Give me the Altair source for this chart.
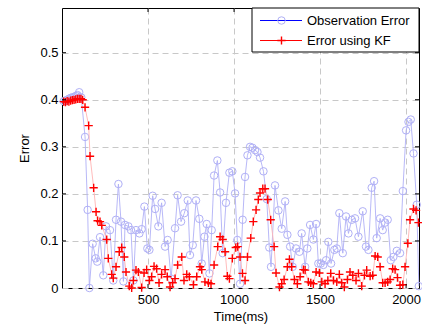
import altair as alt
import pandas as pd

series_names = ["Observation Error", "Error using KF"]

obs_t = [10, 20, 30, 40, 50, 60, 70, 80, 90, 100, 112, 134, 149, 159, 178, 196, 205, 221, 240, 256,
         279, 298, 314, 328, 343, 357, 366, 386, 401, 415, 430, 450, 463, 479, 496, 508, 527, 541, 560, 579,
         599, 614, 634, 657, 672, 692, 711, 731, 744, 760, 779, 798, 812, 828, 841, 857, 870, 884, 903, 919,
         934, 953, 973, 990, 1006, 1019, 1035, 1050, 1064, 1078, 1093, 1107, 1122, 1136, 1151, 1171, 1190, 1205, 1215, 1238,
         1258, 1277, 1297, 1310, 1326, 1341, 1360, 1380, 1393, 1413, 1426, 1442, 1461, 1477, 1490, 1504, 1519, 1535, 1548, 1564,
         1583, 1597, 1612, 1632, 1651, 1665, 1684, 1703, 1723, 1748, 1767, 1781, 1800, 1814, 1829, 1849, 1864, 1878, 1893, 1911,
         1926, 1946, 1965, 1981, 2000, 2014, 2027, 2043, 2062, 2074]
obs_e = [0.397, 0.398, 0.400, 0.402, 0.404, 0.405, 0.406, 0.408, 0.410, 0.416, 0.405, 0.321, 0.166, 0.000, 0.094, 0.063, 0.056, 0.108, 0.027, 0.131,
         0.123, 0.016, 0.145, 0.221, 0.141, 0.014, 0.134, 0.131, 0.123, 0.016, 0.123, 0.116, 0.125, 0.173, 0.084, 0.081, 0.196, 0.168, 0.131, 0.181,
         0.088, 0.102, 0.020, 0.127, 0.197, 0.141, 0.159, 0.186, 0.070, 0.091, 0.186, 0.147, 0.052, 0.109, 0.136, 0.031, 0.123, 0.239, 0.271, 0.203,
         0.074, 0.181, 0.245, 0.248, 0.201, 0.102, 0.009, 0.145, 0.236, 0.282, 0.300, 0.298, 0.293, 0.289, 0.277, 0.248, 0.189, 0.086, 0.045, 0.218,
         0.165, 0.126, 0.184, 0.113, 0.088, 0.045, 0.084, 0.077, 0.116, 0.045, 0.084, 0.134, 0.103, 0.136, 0.052, 0.052, 0.049, 0.059, 0.098, 0.052,
         0.081, 0.084, 0.159, 0.074, 0.152, 0.116, 0.145, 0.148, 0.109, 0.163, 0.088, 0.081, 0.213, 0.227, 0.106, 0.148, 0.123, 0.139, 0.145, 0.059,
         0.066, 0.079, 0.074, 0.206, 0.335, 0.353, 0.358, 0.286, 0.177, 0.004]

kf_t = [10, 20, 30, 40, 50, 60, 70, 80, 90, 100, 110, 120, 134, 155, 163, 184, 198, 207, 221, 231,
        260, 269, 289, 298, 314, 333, 347, 362, 372, 391, 405, 415, 430, 444, 463, 477, 492, 508, 521, 535,
        550, 564, 579, 599, 612, 628, 643, 657, 672, 696, 709, 725, 740, 764, 783, 802, 812, 831, 851, 866,
        884, 905, 919, 934, 948, 961, 973, 990, 1010, 1021, 1035, 1049, 1064, 1078, 1097, 1112, 1128, 1141, 1151, 1167,
        1180, 1196, 1213, 1233, 1244, 1264, 1277, 1291, 1310, 1322, 1335, 1351, 1368, 1384, 1403, 1413, 1432, 1446, 1461, 1477,
        1496, 1510, 1529, 1545, 1562, 1578, 1597, 1612, 1626, 1641, 1659, 1674, 1690, 1709, 1723, 1742, 1758, 1771, 1791, 1806,
        1820, 1835, 1849, 1864, 1878, 1893, 1907, 1922, 1936, 1950, 1965, 1981, 1994, 2010, 2023, 2043, 2058, 2072]
kf_e = [0.396, 0.395, 0.397, 0.396, 0.398, 0.399, 0.400, 0.401, 0.402, 0.402, 0.402, 0.400, 0.384, 0.345, 0.280, 0.213, 0.162, 0.143, 0.141, 0.133,
        0.103, 0.063, 0.029, 0.021, 0.045, 0.077, 0.086, 0.066, 0.034, 0.004, 0.000, 0.016, 0.038, 0.034, 0.001, 0.032, 0.039, 0.016, 0.024, 0.046,
        0.041, 0.011, 0.029, 0.039, 0.024, 0.002, 0.011, 0.020, 0.049, 0.066, 0.016, 0.029, 0.024, 0.007, 0.024, 0.045, 0.039, 0.013, 0.011, 0.009,
        0.049, 0.088, 0.109, 0.103, 0.077, 0.025, 0.020, 0.063, 0.086, 0.088, 0.066, 0.031, 0.016, 0.066, 0.106, 0.141, 0.166, 0.188, 0.202, 0.211,
        0.211, 0.188, 0.145, 0.088, 0.032, 0.002, 0.009, 0.018, 0.045, 0.061, 0.045, 0.018, 0.009, 0.024, 0.039, 0.038, 0.013, 0.011, 0.009, 0.034,
        0.032, 0.013, 0.009, 0.016, 0.031, 0.016, 0.013, 0.029, 0.011, 0.002, 0.018, 0.034, 0.027, 0.016, 0.031, 0.004, 0.027, 0.038, 0.025, 0.027,
        0.068, 0.066, 0.045, 0.011, 0.011, 0.013, 0.018, 0.041, 0.039, 0.022, 0.006, 0.007, 0.045, 0.095, 0.145, 0.168, 0.165, 0.139]

x_ticks = [500, 1000, 1500, 2000]
y_ticks = [0, 0.1, 0.2, 0.3, 0.4, 0.5]

FONT = "Liberation Sans"
W, H = 357, 280
PLUS = "M-1,0L1,0M0,-1L0,1"
OBS_LIGHT = "#b0b0f6"
KF_LIGHT = "#ffb4b4"
CIRC_SIZE = 56
PLUS_SIZE = 68

obs = pd.DataFrame({"t": obs_t, "e": obs_e})
kf = pd.DataFrame({"t": kf_t, "e": kf_e})

xscale = alt.Scale(domain=[0, 2075], nice=False, zero=False)
yscale = alt.Scale(domain=[0, 0.595], nice=False)

xax = alt.Axis(values=x_ticks, format="d", title="Time(ms)", grid=True,
               gridDash=[6, 4], gridColor="#c8c8c8", gridWidth=1,
               tickSize=0, domain=False, labelPadding=5, titlePadding=4)
yax = alt.Axis(values=y_ticks, title="Error", grid=True,
               gridDash=[6, 4], gridColor="#c8c8c8", gridWidth=1,
               labelExpr="datum.value == 0 ? '0' : format(datum.value, '.1f')",
               tickSize=0, domain=False, labelPadding=4, titlePadding=8)

X = alt.X("t:Q", scale=xscale, axis=xax)
Y = alt.Y("e:Q", scale=yscale, axis=yax)

obs_line = alt.Chart(obs).mark_line(color=OBS_LIGHT, strokeWidth=0.9).encode(x=X, y=Y)
obs_pts = alt.Chart(obs).mark_point(shape="circle", filled=False, color=OBS_LIGHT,
                                    strokeWidth=1, size=CIRC_SIZE, opacity=1).encode(x="t:Q", y="e:Q")
kf_line = alt.Chart(kf).mark_line(color=KF_LIGHT, strokeWidth=0.9).encode(x="t:Q", y="e:Q")
kf_pts = alt.Chart(kf).mark_point(shape=PLUS, filled=False, color="#ff0000",
                                  strokeWidth=1.4, size=PLUS_SIZE, opacity=1).encode(x="t:Q", y="e:Q")

# inward ticks (MATLAB style)
xt = pd.DataFrame({"t": x_ticks})
yt = pd.DataFrame({"e": y_ticks[1:]})
xt_bot = alt.Chart(xt).mark_rule(color="black").encode(x="t:Q", y=alt.value(H), y2=alt.value(H - 4))
xt_top = alt.Chart(xt).mark_rule(color="black").encode(x="t:Q", y=alt.value(0), y2=alt.value(4))
yt_l = alt.Chart(yt).mark_rule(color="black").encode(y="e:Q", x=alt.value(0), x2=alt.value(4))
yt_r = alt.Chart(yt).mark_rule(color="black").encode(y="e:Q", x=alt.value(W), x2=alt.value(W - 4))

# legend box
one = pd.DataFrame({"k": [0]})
lx0, lx1, ly0, ly1 = 190, W, 0, 44
leg_box = alt.Chart(one).mark_rect(fill="white", stroke="black", strokeWidth=1).encode(
    x=alt.value(lx0), x2=alt.value(lx1), y=alt.value(ly0), y2=alt.value(ly1))
rows = [12.5, 32.5]
line_colors = ["#0000ff", "#ff0000"]
leg_layers = [leg_box]
for i, name in enumerate(series_names):
    yy = rows[i]
    leg_layers.append(alt.Chart(one).mark_rule(color=line_colors[i], strokeWidth=1).encode(
        x=alt.value(198), x2=alt.value(240), y=alt.value(yy)))
    if i == 0:
        leg_layers.append(alt.Chart(one).mark_point(shape="circle", filled=False, color=OBS_LIGHT,
                                                    size=CIRC_SIZE, strokeWidth=1, opacity=1).encode(
            x=alt.value(219.5), y=alt.value(yy)))
    else:
        leg_layers.append(alt.Chart(one).mark_point(shape=PLUS, filled=False, color="#ff0000",
                                                    size=PLUS_SIZE, strokeWidth=1.4, opacity=1).encode(
            x=alt.value(219.5), y=alt.value(yy)))
    leg_layers.append(alt.Chart(one).mark_text(align="left", baseline="middle", font=FONT,
                                               fontSize=13, color="black").encode(
        x=alt.value(245), y=alt.value(yy), text=alt.value(name)))

chart = alt.layer(obs_line, obs_pts, kf_line, kf_pts, xt_bot, xt_top, yt_l, yt_r,
                  *leg_layers).properties(
    width=W, height=H,
    autosize=alt.AutoSizeParams(type="none"),
    padding={"left": 62, "top": 8, "right": 3, "bottom": 41},
    background="white",
).configure_view(stroke="black", strokeWidth=1, clip=False).configure_axis(
    labelFont=FONT, titleFont=FONT, labelFontSize=13, titleFontSize=13,
    labelColor="black", titleColor="black", titleFontWeight="normal",
)

chart.save("out.html", embed_options={"renderer": "svg", "actions": False})
